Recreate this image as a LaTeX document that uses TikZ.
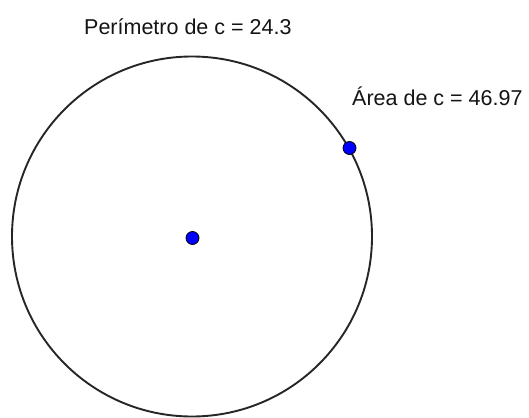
\documentclass[tikz,border=0pt]{standalone}
\usepackage{fontspec}
\setmainfont{Liberation Sans}
\begin{document}
\begin{tikzpicture}[x=1pt,y=-1pt,
  ggpoint/.style={circle,fill={rgb,255:red,0;green,0;blue,255},draw=black,line width=0.8pt,inner sep=0pt,minimum size=13pt},
  gglabel/.style={anchor=base west,inner sep=0pt,font=\fontsize{21.5pt}{24pt}\selectfont,text={rgb,255:red,20;green,20;blue,20}}]
\useasboundingbox[fill=white] (0,0) rectangle (529,417);
\begin{scope}
\clip (0,0) rectangle (529,417);
\draw[line width=1.9pt,black!85] (192,236.5) circle (180pt);
\end{scope}
\node[ggpoint] (A) at (192.5,238) {};
\node[ggpoint] (B) at (349.5,148) {};
\node[gglabel] (per) at (84,35) {Perímetro de c = 24.3};
\node[gglabel] (area) at (352,105) {Área de c = 46.97};
\end{tikzpicture}
\end{document}
